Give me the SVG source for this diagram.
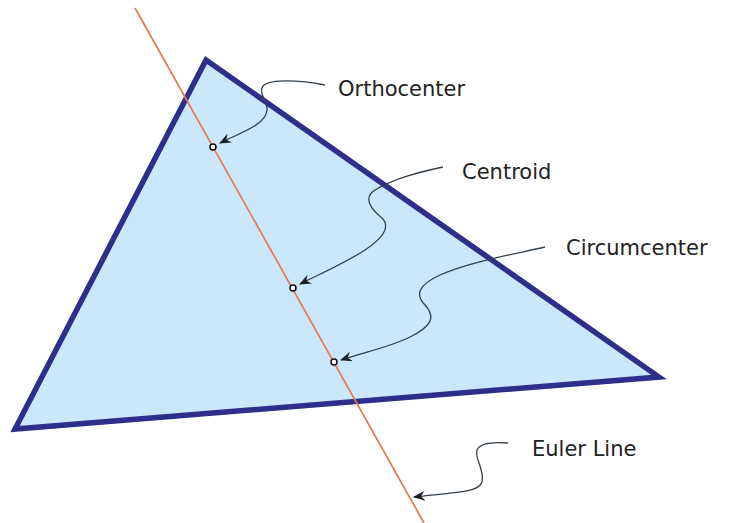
<svg xmlns="http://www.w3.org/2000/svg" width="741" height="523" viewBox="0 0 741 523">
<style>
.tri{fill:#cbe7fb;stroke:#2d2f8a;stroke-width:5.5;stroke-linejoin:miter}
.euler{stroke:#e4784a;stroke-width:1.7;fill:none}
.conn{fill:none;stroke:#34404c;stroke-width:1.3}
.dot{fill:#fff;stroke:#111;stroke-width:1.5}
.lbl{font-family:"DejaVu Sans",Verdana,sans-serif;font-size:21px;fill:#222}
</style>
<defs>
<marker id="arr" viewBox="0 0 12 10" refX="11" refY="5" markerWidth="12" markerHeight="10" markerUnits="userSpaceOnUse" orient="auto">
<path d="M12,5 L0,0 L4,5 L0,10 Z" fill="#1a1f26"/>
</marker>
</defs>
<rect width="741" height="523" fill="#fff"/>
<g id="triangle"><polygon class="tri" points="206,60 659,377 15,429"/></g>
<g id="euler-line"><line class="euler" x1="135" y1="8" x2="424" y2="523"/></g>
<g id="connectors">
<path class="conn" marker-end="url(#arr)" d="M325,85 C300,80 265,78 262,88 C259,96 268,100 267,110 C266,125 240,133 220,143"/>
<path class="conn" marker-end="url(#arr)" d="M443,167 C420,172 395,178 375,190 C362,198 372,210 382,218 C392,228 380,240 365,250 C345,263 320,274 300,284"/>
<path class="conn" marker-end="url(#arr)" d="M545,247 C510,255 470,262 440,275 C418,285 415,295 425,305 C437,318 430,327 410,337 C390,347 365,352 341,360"/>
<path class="conn" marker-end="url(#arr)" d="M508,443 C495,442 480,443 477,450 C474,458 485,470 482,482 C479,492 460,492 414,497"/>
</g>
<g id="orthocenter"><circle class="dot" cx="213" cy="147" r="3"/><text class="lbl" x="338" y="96">Orthocenter</text></g>
<g id="centroid"><circle class="dot" cx="293" cy="288" r="3"/><text class="lbl" x="462" y="179">Centroid</text></g>
<g id="circumcenter"><circle class="dot" cx="334" cy="362" r="3"/><text class="lbl" x="566" y="255">Circumcenter</text></g>
<g id="euler-label"><text class="lbl" x="532" y="456">Euler Line</text></g>
</svg>
